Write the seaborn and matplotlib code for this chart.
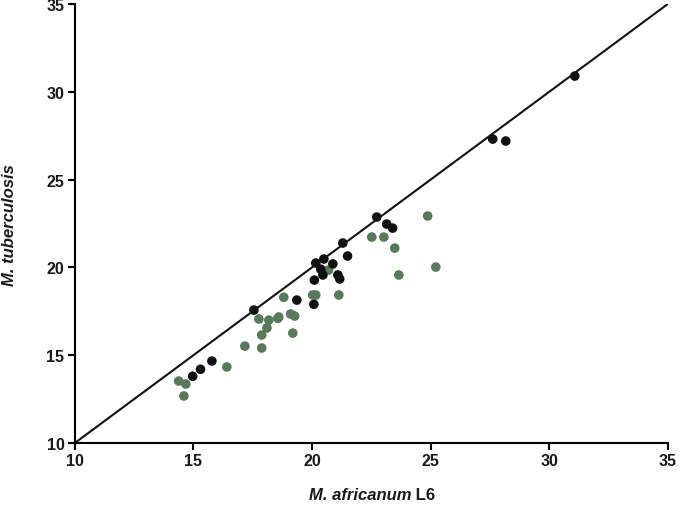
import matplotlib
matplotlib.use("Agg")
import matplotlib.pyplot as plt
import seaborn as sns
import pandas as pd

# Black series (x: M. africanum L6, y: M. tuberculosis)
black_x = [31.08, 27.62, 28.17, 22.73, 23.15, 23.40, 21.30, 21.50, 20.16, 20.50,
           20.88, 20.37, 20.46, 21.09, 21.17, 20.10, 19.36, 20.08, 17.55, 15.78,
           15.30, 14.97]
black_y = [30.90, 27.31, 27.20, 22.87, 22.47, 22.24, 21.39, 20.65, 20.25, 20.48,
           20.20, 19.90, 19.57, 19.57, 19.34, 19.28, 18.14, 17.90, 17.57, 14.67,
           14.20, 13.80]

# Green series
green_x = [24.88, 22.52, 23.03, 23.49, 23.66, 25.22, 20.70, 20.03, 20.16, 21.13,
           18.81, 18.60, 19.10, 19.27, 19.19, 18.56, 18.18, 17.76, 18.10, 17.88,
           17.88, 17.17, 16.41, 14.38, 14.68, 14.60]
green_y = [22.93, 21.73, 21.73, 21.10, 19.57, 20.02, 19.85, 18.43, 18.43, 18.43,
           18.30, 17.18, 17.35, 17.23, 16.26, 17.10, 17.00, 17.06, 16.55, 16.15,
           15.41, 15.52, 14.33, 13.53, 13.36, 12.68]

line_x = [10, 35]
line_y = [10, 35]
ticks = [10, 15, 20, 25, 30, 35]

sns.set_style("ticks")
plt.rcParams['font.family'] = ['Liberation Sans', 'DejaVu Sans']

df_b = pd.DataFrame({"x": black_x, "y": black_y})
df_g = pd.DataFrame({"x": green_x, "y": green_y})

fig = plt.figure(figsize=(6.8, 5.06), dpi=100)
ax = fig.add_axes([0.110, 0.1225, 0.872, 0.8675])

sns.lineplot(x=line_x, y=line_y, ax=ax, color="#111111", linewidth=1.5)
sns.scatterplot(data=df_g, x="x", y="y", ax=ax, color="#587a5a", s=48,
                edgecolor="none", zorder=3)
sns.scatterplot(data=df_b, x="x", y="y", ax=ax, color="#111111", s=48,
                edgecolor="none", zorder=4)

ax.set_xlim(10, 35)
ax.set_ylim(10, 35)
ax.set_xticks(ticks)
ax.set_yticks(ticks)
ax.set_xticklabels([str(t) for t in ticks], fontsize=11.5, fontweight="bold")
ax.set_yticklabels([str(t) for t in ticks], fontsize=11.5, fontweight="bold")
ax.tick_params(axis="both", direction="out", length=5, width=1.5, color="black",
               labelcolor="#1a1a1a", pad=2.5)
for side in ["top", "right"]:
    ax.spines[side].set_visible(False)
for side in ["left", "bottom"]:
    ax.spines[side].set_linewidth(1.5)
    ax.spines[side].set_color("black")
ax.set_xlabel("")
ax.set_ylabel("")

t1 = fig.text(0.45, 0.012, "M. africanum", fontsize=12, fontweight="bold",
              fontstyle="italic", color="#1a1a1a", ha="left", va="baseline")
fig.canvas.draw()
bb = t1.get_window_extent()
w = bb.width / fig.bbox.width
t2 = fig.text(0.45 + w, 0.012, " L6", fontsize=12, fontweight="bold",
              color="#1a1a1a", ha="left", va="baseline")
fig.canvas.draw()
w2 = t2.get_window_extent().width / fig.bbox.width
start = 372 / 680 - (w + w2) / 2
t1.set_x(start)
t2.set_x(start + w)

fig.text(0.014, (506 - 225) / 506, "M. tuberculosis", fontsize=12, fontweight="bold",
         fontstyle="italic", color="#1a1a1a", rotation=90, ha="center", va="center")

fig.savefig("out.png", dpi=100)
